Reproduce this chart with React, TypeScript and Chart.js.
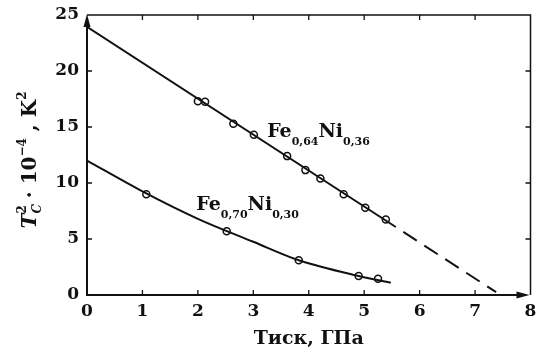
import React, { useEffect, useRef } from 'react';
import { Chart, registerables } from 'chart.js';

Chart.register(...registerables);

// Axis ticks
const xTicks = [0, 1, 2, 3, 4, 5, 6, 7, 8];
const yTicks = [0, 5, 10, 15, 20, 25];

// Fe0,64Ni0,36: measured points (pressure, GPa; Tc^2 * 1e-4, K^2)
const ni36Pressure = [2.0, 2.13, 2.64, 3.01, 3.61, 3.94, 4.21, 4.63, 5.02, 5.39];
const ni36Tc2 = [17.3, 17.25, 15.3, 14.3, 12.4, 11.15, 10.4, 9.0, 7.8, 6.75];
// Linear fit: solid over the measured range, dashed extrapolation to Tc = 0
const ni36FitX = [0, 5.57];
const ni36FitY = [23.95, 6.07];
const ni36ExtraX = [5.57, 7.38];
const ni36ExtraY = [6.07, 0.25];

// Fe0,70Ni0,30: measured points and smooth guide curve
const ni30Pressure = [1.07, 2.52, 3.82, 4.9, 5.25];
const ni30Tc2 = [9.0, 5.7, 3.1, 1.7, 1.46];
const ni30CurveX = [0, 1, 2, 3, 3.82, 4.9, 5.48];
const ni30CurveY = [12, 9.25, 6.8, 4.75, 3.1, 1.7, 1.1];

const FONT = '"DejaVu Serif", "Liberation Serif", serif';
const INK = '#111';

const pts = (xs: number[], ys: number[]) => xs.map((x, i) => ({ x, y: ys[i] }));

type Run = { t: string; size: number; italic?: boolean; dy?: number; advance?: boolean };

function runFont(r: Run) {
  return `${r.italic ? 'italic ' : ''}bold ${r.size}px ${FONT}`;
}

function runsWidth(ctx: CanvasRenderingContext2D, runs: Run[]) {
  let w = 0;
  for (const r of runs) {
    ctx.font = runFont(r);
    if (r.advance !== false) w += ctx.measureText(r.t).width;
  }
  return w;
}

function drawRuns(ctx: CanvasRenderingContext2D, runs: Run[], x: number, y: number) {
  let cx = x;
  for (const r of runs) {
    ctx.font = runFont(r);
    ctx.fillText(r.t, cx, y + (r.dy || 0));
    if (r.advance !== false) cx += ctx.measureText(r.t).width;
  }
}

const ni36Label: Run[] = [
  { t: 'Fe', size: 19 },
  { t: '0,64', size: 11, dy: 8 },
  { t: 'Ni', size: 19 },
  { t: '0,36', size: 11, dy: 8 },
];
const ni30Label: Run[] = [
  { t: 'Fe', size: 19 },
  { t: '0,70', size: 11, dy: 8 },
  { t: 'Ni', size: 19 },
  { t: '0,30', size: 11, dy: 8 },
];
const yTitle: Run[] = [
  { t: 'T', size: 20, italic: true },
  { t: 'C', size: 12, italic: true, dy: 5, advance: false },
  { t: '2', size: 12, dy: -10 },
  { t: ' · 10', size: 20 },
  { t: '−4', size: 12, dy: -10 },
  { t: ' , K', size: 20 },
  { t: '2', size: 12, dy: -10 },
];
const xTitle = 'Тиск, ГПа';

const framePlugin = {
  id: 'frame',
  afterDraw(chart: any) {
    const ctx: CanvasRenderingContext2D = chart.ctx;
    const { left, right, top, bottom } = chart.chartArea;
    const xs = chart.scales.x;
    const ys = chart.scales.y;
    ctx.save();
    ctx.strokeStyle = INK;
    ctx.fillStyle = INK;

    // top and right frame
    ctx.lineWidth = 1.5;
    ctx.beginPath();
    ctx.moveTo(left, top);
    ctx.lineTo(right, top);
    ctx.lineTo(right, bottom);
    ctx.stroke();
    // axes
    ctx.lineWidth = 2;
    ctx.beginPath();
    ctx.moveTo(left, top + 6);
    ctx.lineTo(left, bottom);
    ctx.lineTo(right - 6, bottom);
    ctx.stroke();

    // inward tick marks on all four sides
    ctx.lineWidth = 1.3;
    const tl = 5;
    ctx.beginPath();
    for (const v of xTicks.slice(1, -1)) {
      const px = xs.getPixelForValue(v);
      ctx.moveTo(px, bottom);
      ctx.lineTo(px, bottom - tl);
      ctx.moveTo(px, top);
      ctx.lineTo(px, top + tl);
    }
    for (const v of yTicks.slice(1, -1)) {
      const py = ys.getPixelForValue(v);
      ctx.moveTo(left, py);
      ctx.lineTo(left + tl, py);
      ctx.moveTo(right, py);
      ctx.lineTo(right - tl, py);
    }
    ctx.stroke();

    // axis arrowheads
    ctx.beginPath();
    ctx.moveTo(right - 1, bottom);
    ctx.lineTo(right - 14, bottom - 3.5);
    ctx.lineTo(right - 14, bottom + 3.5);
    ctx.closePath();
    ctx.fill();
    ctx.beginPath();
    ctx.moveTo(left, top - 1);
    ctx.lineTo(left - 3.5, top + 12);
    ctx.lineTo(left + 3.5, top + 12);
    ctx.closePath();
    ctx.fill();

    // series labels
    ctx.textBaseline = 'alphabetic';
    ctx.textAlign = 'left';
    drawRuns(ctx, ni36Label, xs.getPixelForValue(3.25), ys.getPixelForValue(14.1));
    drawRuns(ctx, ni30Label, xs.getPixelForValue(1.97), ys.getPixelForValue(7.6));

    // x title
    ctx.font = `bold 19px ${FONT}`;
    ctx.textAlign = 'center';
    ctx.fillText(xTitle, (left + right) / 2, 344);

    // rotated y title
    ctx.textAlign = 'left';
    const w = runsWidth(ctx, yTitle);
    ctx.translate(36, 160);
    ctx.rotate(-Math.PI / 2);
    drawRuns(ctx, yTitle, -w / 2, 0);
    ctx.restore();
  },
};

export default function App() {
  const ref = useRef<HTMLCanvasElement>(null);

  useEffect(() => {
    const canvas = ref.current!;
    const tickFont = { family: FONT, size: 17, weight: 'bold' as const };
    const marker = {
      pointRadius: 3.5,
      pointBorderWidth: 1.5,
      pointBackgroundColor: '#fff',
      pointBorderColor: INK,
      showLine: false,
    };
    const chart = new Chart(canvas, {
      type: 'scatter',
      data: {
        datasets: [
          {
            label: 'Fe0,64Ni0,36 fit',
            data: pts(ni36FitX, ni36FitY),
            showLine: true,
            borderColor: INK,
            borderWidth: 2,
            pointRadius: 0,
          },
          {
            label: 'Fe0,64Ni0,36 extrapolation',
            data: pts(ni36ExtraX, ni36ExtraY),
            showLine: true,
            borderColor: INK,
            borderWidth: 2,
            borderDash: [16, 9],
            borderDashOffset: 16,
            pointRadius: 0,
          },
          {
            label: 'Fe0,70Ni0,30 curve',
            data: pts(ni30CurveX, ni30CurveY),
            showLine: true,
            borderColor: INK,
            borderWidth: 2,
            cubicInterpolationMode: 'monotone',
            pointRadius: 0,
          },
          { label: 'Fe0,64Ni0,36', data: pts(ni36Pressure, ni36Tc2), ...marker },
          { label: 'Fe0,70Ni0,30', data: pts(ni30Pressure, ni30Tc2), ...marker },
        ],
      },
      options: {
        responsive: false,
        animation: false,
        devicePixelRatio: 1,
        layout: { padding: { top: 15, right: 2, left: 0, bottom: 0 } },
        plugins: { legend: { display: false }, tooltip: { enabled: false } },
        scales: {
          x: {
            type: 'linear',
            min: 0,
            max: 8,
            afterBuildTicks: (s: any) => {
              s.ticks = xTicks.map((value) => ({ value }));
            },
            grid: { display: false, drawTicks: false },
            border: { display: false },
            ticks: { padding: 6, font: tickFont, color: INK, maxRotation: 0, autoSkip: false },
            afterFit: (s: any) => {
              s.height = 58;
              s.paddingLeft = 0;
              s.paddingRight = 0;
            },
          },
          y: {
            type: 'linear',
            min: 0,
            max: 25,
            afterBuildTicks: (s: any) => {
              s.ticks = yTicks.map((value) => ({ value }));
            },
            grid: { display: false, drawTicks: false },
            border: { display: false },
            ticks: { padding: 8, font: tickFont, color: INK, autoSkip: false },
            afterFit: (s: any) => {
              s.width = 87;
              s.paddingTop = 0;
              s.paddingBottom = 0;
            },
          },
        },
      } as any,
      plugins: [framePlugin],
    });
    return () => chart.destroy();
  }, []);

  return (
    <div style={{ position: 'absolute', left: 0, top: 0, width: 536, height: 353, background: '#fff' }}>
      <canvas ref={ref} width={536} height={353} style={{ display: 'block', width: 536, height: 353 }} />
    </div>
  );
}
